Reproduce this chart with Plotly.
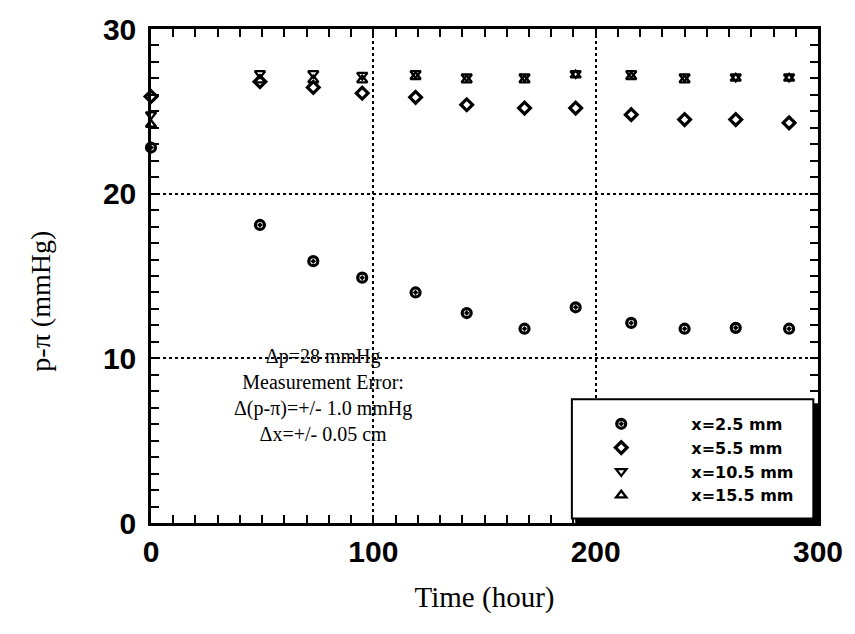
import plotly.graph_objects as go

# Data
time_h = [0, 49, 73, 95, 119, 142, 168, 191, 216, 240, 263, 287]
x_2_5 = [22.8, 18.1, 15.9, 14.9, 14.0, 12.75, 11.8, 13.1, 12.15, 11.8, 11.85, 11.8]
x_5_5 = [25.9, 26.8, 26.45, 26.1, 25.85, 25.4, 25.2, 25.2, 24.8, 24.5, 24.5, 24.3]
x_10_5 = [24.8, 27.3, 27.3, 27.2, 27.3, 27.1, 27.1, 27.3, 27.3, 27.1, 27.1, 27.1]
x_15_5 = [24.2, 26.9, 26.9, 26.9, 27.1, 26.9, 26.9, 27.2, 27.1, 26.9, 27.0, 27.0]

series_names = ["x=2.5 mm", "x=5.5 mm", "x=10.5 mm", "x=15.5 mm"]
series_vals = [x_2_5, x_5_5, x_10_5, x_15_5]
symbols = ["circle-open-dot", "diamond-open", "triangle-down-open", "triangle-up-open"]
sizes = [9, 9, 9, 9]
line_widths = [3.2, 3.2, 2.3, 2.3]

x_ticks = [0, 100, 200, 300]
y_ticks = [0, 10, 20, 30]

x_title = "Time (hour)"
y_title = "p-π (mmHg)"
annotation_lines = ["Δp=28 mmHg", "Measurement Error:", "Δ(p-π)=+/- 1.0 mmHg", "Δx=+/- 0.05 cm"]

fig = go.Figure()
for name, vals, sym, sz, lw in zip(series_names, series_vals, symbols, sizes, line_widths):
    fig.add_trace(go.Scatter(
        x=time_h, y=vals, mode="markers", name="\u00a0" * 9 + name,
        marker=dict(symbol=sym, size=sz, color="black", line=dict(color="black", width=lw)),
        cliponaxis=False,
    ))

axis_common = dict(
    showline=True, linecolor="black", linewidth=2.5, mirror="ticks",
    ticks="inside", ticklen=8, tickwidth=2, tickcolor="black",
    showgrid=True, gridcolor="black", gridwidth=1.5, griddash="dot",
    zeroline=False,
    tickfont=dict(family="Liberation Sans, Arial", size=30, color="black", weight="bold"),
)

serif = "Liberation Serif, Times New Roman"

fig.update_xaxes(
    range=[0, 300], tickvals=x_ticks, ticktext=[str(v) for v in x_ticks],
    minor=dict(dtick=10, ticks="inside", ticklen=8, tickwidth=2, tickcolor="black", showgrid=False),
    title=dict(text=x_title, font=dict(family=serif, size=29, color="black"), standoff=20),
    ticklabelstandoff=0,
    **axis_common,
)
fig.update_yaxes(
    range=[0, 30], tickvals=y_ticks, ticktext=[str(v) for v in y_ticks],
    minor=dict(dtick=1, ticks="inside", ticklen=8, tickwidth=2, tickcolor="black", showgrid=False),
    ticklabelstandoff=6,
    **axis_common,
)

# y-axis title (placed slightly below the plot centre, as in the reference)
fig.add_annotation(
    x=-0.165, y=0.45, xref="paper", yref="paper", xanchor="center", yanchor="middle",
    text=y_title, textangle=-90, showarrow=False,
    font=dict(family=serif, size=28, color="black"),
)

# annotation text block
fig.add_annotation(
    x=0.258, y=0.364, xref="paper", yref="paper", xanchor="center", yanchor="top",
    text="<br>".join(annotation_lines), showarrow=False, align="center",
    font=dict(family=serif, size=20, color="black"),
)

# legend box with drop shadow
fig.add_shape(type="rect", xref="paper", yref="paper", x0=0.636, x1=1.0, y0=0.0, y1=0.2425,
              fillcolor="black", line=dict(width=0), layer="above")
fig.add_shape(type="rect", xref="paper", yref="paper", x0=0.631, x1=0.993, y0=0.009, y1=0.2505,
              fillcolor="white", line=dict(color="black", width=2), layer="above")

fig.update_layout(
    width=855, height=634,
    margin=dict(l=151, r=33, t=24, b=111),
    paper_bgcolor="white", plot_bgcolor="white",
    showlegend=True,
    legend=dict(x=0.675, y=0.235, xanchor="left", yanchor="top",
                bgcolor="rgba(0,0,0,0)", borderwidth=0,
                font=dict(family="DejaVu Sans", size=16, color="black", weight="bold"),
                tracegroupgap=0, itemsizing="trace"),
)

fig.write_html("out.html")
